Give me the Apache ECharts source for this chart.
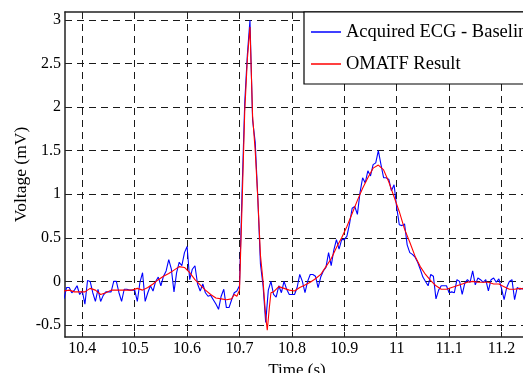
<!DOCTYPE html>
<html>
<head>
<meta charset="utf-8">
<script src="https://cdn.jsdelivr.net/npm/echarts@6/dist/echarts.min.js"></script>
<style>
html,body{margin:0;padding:0;background:#fff;overflow:hidden;}
#c{width:523px;height:373px;}
</style>
</head>
<body>
<div id="c"></div>
<script>
// ---- data ----
var xTicks = [10.4, 10.5, 10.6, 10.7, 10.8, 10.9, 11, 11.1, 11.2];
var yTicks = [-0.5, 0, 0.5, 1, 1.5, 2, 2.5, 3];
var seriesNames = ['Acquired ECG - Baseline', 'OMATF Result'];

// Acquired ECG samples (5 ms spacing starting at 10.365 s)
var blueStart = 10.365;
var blueStep = 0.005;
var blueValues = [
 -0.20,-0.07,-0.07,-0.13,-0.10,-0.05,-0.15,-0.11,-0.26,0.01,
 0.00,-0.13,-0.23,-0.09,-0.23,-0.16,-0.12,-0.12,-0.12,0.00,
 0.00,-0.13,-0.23,-0.09,-0.09,-0.10,-0.10,-0.10,-0.23,-0.01,
 0.10,-0.23,-0.13,-0.05,-0.11,0.00,0.05,-0.05,0.06,0.12,
 0.25,0.14,-0.12,0.10,0.22,0.18,0.33,0.40,0.02,0.14,
 0.18,-0.03,-0.11,-0.03,-0.13,-0.17,-0.16,-0.21,-0.26,-0.32,
 -0.17,-0.09,-0.30,-0.30,-0.21,-0.13,-0.11,-0.05,1.05,2.05,
 2.60,3.00,1.85,1.60,0.95,0.20,-0.05,-0.47,-0.10,0.00,
 -0.15,-0.18,-0.05,-0.13,0.00,-0.09,-0.15,-0.15,-0.15,-0.07,
 0.08,0.00,-0.13,0.00,0.08,0.08,0.06,-0.07,0.05,0.12,
 0.16,0.33,0.18,0.36,0.48,0.37,0.48,0.48,0.52,0.66,
 0.84,0.86,0.77,1.02,1.19,1.13,1.27,1.21,1.34,1.36,
 1.50,1.34,1.19,1.19,1.17,1.04,1.11,0.85,0.65,0.64,
 0.66,0.42,0.33,0.31,0.28,0.22,0.14,0.05,0.00,-0.05,
 0.08,0.06,-0.20,-0.10,-0.05,-0.05,-0.05,-0.13,-0.12,-0.13,
 0.02,0.00,-0.15,-0.02,0.02,-0.01,0.12,-0.04,0.04,0.02,
 -0.01,0.02,-0.11,0.02,0.04,-0.01,0.03,-0.08,-0.21,-0.07,
 0.00,0.02,-0.21,-0.07,-0.09,-0.08,-0.10
];

// OMATF result
var redTimes = [
 10.365,10.375,10.385,10.395,10.405,10.415,10.425,10.435,10.445,10.455,
 10.465,10.475,10.485,10.495,10.505,10.515,10.525,10.535,10.545,10.555,
 10.565,10.575,10.585,10.595,10.605,10.615,10.625,10.635,10.645,10.655,
 10.665,10.675,10.685,
 10.69,10.695,10.70,10.705,10.71,10.715,10.72,10.725,10.73,10.735,10.74,10.745,10.75,10.753,10.757,10.76,
 10.765,10.775,10.785,10.795,10.805,10.815,10.825,10.835,10.845,10.855,
 10.865,10.875,10.885,10.895,10.905,10.915,10.925,10.935,10.945,10.955,
 10.965,10.975,10.985,10.995,11.005,11.015,11.025,11.035,11.045,11.055,
 11.065,11.075,11.085,11.095,11.105,11.115,11.125,11.135,11.145,11.155,
 11.165,11.175,11.185,11.195,11.205,11.215,11.225,11.235,11.245,11.255
];
var redValues = [
 -0.11,-0.10,-0.12,-0.12,-0.12,-0.08,-0.10,-0.15,-0.13,-0.10,
 -0.10,-0.10,-0.10,-0.10,-0.08,-0.10,-0.07,-0.03,0.02,0.06,
 0.09,0.13,0.17,0.16,0.10,0.02,-0.04,-0.10,-0.15,-0.19,
 -0.20,-0.21,-0.20,
 -0.15,-0.17,-0.10,0.90,1.95,2.55,2.92,1.90,1.50,0.95,0.30,0.00,-0.40,-0.56,-0.30,-0.13,
 -0.12,-0.06,-0.08,-0.10,-0.11,-0.07,-0.04,-0.01,0.03,0.08,
 0.17,0.26,0.39,0.50,0.63,0.78,0.93,1.07,1.19,1.30,
 1.335,1.28,1.14,0.97,0.80,0.60,0.45,0.29,0.17,0.08,
 0.01,-0.05,-0.09,-0.09,-0.07,-0.05,-0.03,-0.01,0.00,-0.01,
 -0.01,-0.01,-0.03,-0.03,-0.06,-0.09,-0.09,-0.08,-0.09,-0.09
];

// ---- build ----
var blueData = blueValues.map(function (v, i) {
  return [Math.round((blueStart + i * blueStep) * 1000) / 1000, v];
});
var redData = redTimes.map(function (t, i) { return [t, redValues[i]]; });

var FONT = '"Liberation Serif", "Times New Roman", serif';
var chart = echarts.init(document.getElementById('c'), null, {renderer: 'canvas'});
var gridLine = {show: true, lineStyle: {color: '#1a1a1a', width: 1, type: [7, 5]}};
chart.setOption({
  animation: false,
  backgroundColor: '#fff',
  grid: {left: 65, top: 12, width: 464, height: 325, containLabel: false, outerBoundsMode: 'none'},
  legend: {
    orient: 'vertical',
    left: 304, top: 12,
    backgroundColor: '#fff',
    borderColor: '#000', borderWidth: 1.2,
    padding: [10, 30, 10, 7],
    itemWidth: 30, itemHeight: 1.5, itemGap: 12,
    icon: 'rect',
    textStyle: {fontFamily: FONT, fontSize: 18.5, color: '#000', lineHeight: 20},
    data: seriesNames
  },
  xAxis: [{
    type: 'value', min: 10.367, max: 11.2525,
    name: 'Time (s)', nameLocation: 'middle', nameGap: 25, nameMoveOverlap: false,
    nameTextStyle: {fontFamily: FONT, fontSize: 17, color: '#000'},
    axisLine: {show: true, onZero: false, lineStyle: {color: '#222', width: 1.5}},
    axisTick: {show: true, inside: true, length: 5, customValues: xTicks, lineStyle: {color: '#222'}},
    axisLabel: {customValues: xTicks, fontFamily: FONT, fontSize: 16, color: '#000', margin: 4,
      formatter: function (v) { return String(Math.round(v * 10) / 10); }},
    splitLine: gridLine
  }, {
    type: 'value', position: 'top', min: 10.367, max: 11.2525,
    axisLine: {show: true, onZero: false, lineStyle: {color: '#222', width: 1.5}},
    axisTick: {show: true, inside: true, length: 5, customValues: xTicks, lineStyle: {color: '#222'}},
    axisLabel: {show: false},
    splitLine: {show: false}
  }],
  yAxis: [{
    type: 'value', min: -0.638, max: 3.092,
    name: 'Voltage (mV)', nameLocation: 'middle', nameGap: 35, nameMoveOverlap: false,
    nameTextStyle: {fontFamily: FONT, fontSize: 17.5, color: '#000'},
    axisLine: {show: true, onZero: false, lineStyle: {color: '#222', width: 1.5}},
    axisTick: {show: true, inside: true, length: 5, customValues: yTicks, lineStyle: {color: '#222'}},
    axisLabel: {customValues: yTicks, fontFamily: FONT, fontSize: 16, color: '#000', margin: 4,
      formatter: function (v) { return String(Math.round(v * 10) / 10); }},
    splitLine: gridLine
  }],
  series: [{
    name: seriesNames[0], type: 'line', data: blueData,
    showSymbol: false, symbol: 'none',
    lineStyle: {color: '#0000ff', width: 1.1}, itemStyle: {color: '#0000ff'}
  }, {
    name: seriesNames[1], type: 'line', data: redData,
    showSymbol: false, symbol: 'none',
    lineStyle: {color: '#ff0000', width: 1.1}, itemStyle: {color: '#ff0000'}
  }]
});
</script>
</body>
</html>
